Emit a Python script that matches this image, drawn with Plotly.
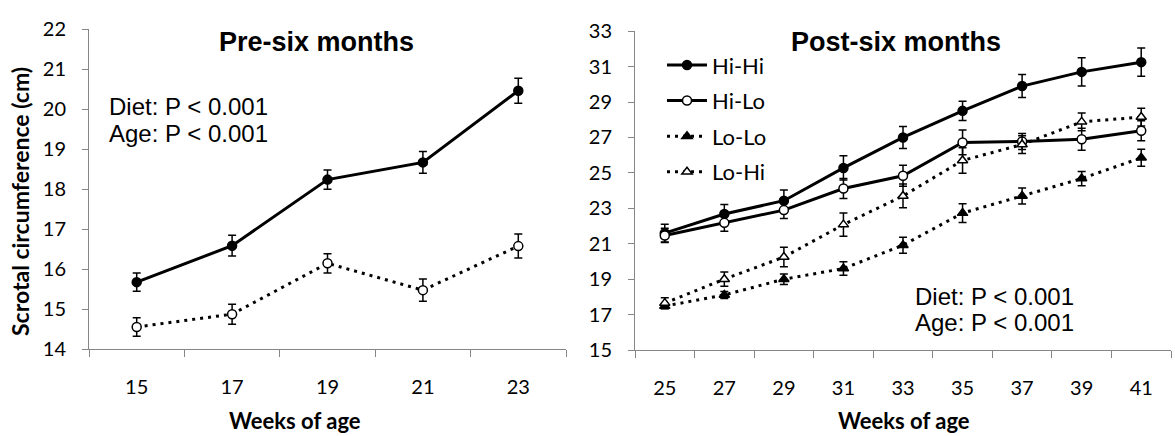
import plotly.graph_objects as go

W, H = 1175, 436

# ---------------- data ----------------
pre_weeks = ["15", "17", "19", "21", "23"]
pre_hi = [15.68, 16.59, 18.24, 18.67, 20.46]
pre_hi_se = [0.23, 0.26, 0.24, 0.27, 0.31]
pre_lo = [14.56, 14.88, 16.15, 15.48, 16.58]
pre_lo_se = [0.23, 0.25, 0.24, 0.28, 0.30]

post_weeks = ["25", "27", "29", "31", "33", "35", "37", "39", "41"]
hihi = [21.60, 22.68, 23.43, 25.28, 27.00, 28.50, 29.90, 30.70, 31.25]
hihi_se = [0.50, 0.53, 0.60, 0.68, 0.62, 0.55, 0.65, 0.80, 0.80]
hilo = [21.47, 22.18, 22.90, 24.12, 24.84, 26.72, 26.77, 26.90, 27.38]
hilo_se = [0.40, 0.47, 0.48, 0.57, 0.59, 0.70, 0.45, 0.62, 0.56]
lolo = [17.48, 18.11, 19.00, 19.60, 20.92, 22.73, 23.70, 24.68, 25.85]
lolo_se = [0.15, 0.20, 0.30, 0.38, 0.45, 0.53, 0.45, 0.40, 0.48]
lohi = [17.65, 19.00, 20.25, 22.08, 23.70, 25.70, 26.60, 27.88, 28.15]
lohi_se = [0.30, 0.40, 0.55, 0.65, 0.67, 0.72, 0.50, 0.50, 0.50]

series_names = ["Hi-Hi", "Hi-Lo", "Lo-Lo", "Lo-Hi"]

AX = "#868686"
TICKFONT = dict(family="Lato", size=20, color="black")
ARIAL = "Liberation Sans, Arial"
DOT = "3px,5px"


def err(v):
    return dict(type="data", array=v, visible=True, color="black", thickness=1.5, width=4)


def mk(symbol, filled, size=9):
    return dict(symbol=symbol, size=size, color="black" if filled else "white",
                line=dict(color="black", width=1.5))


fig = go.Figure()

# ---- left panel ----
fig.add_trace(go.Scatter(x=pre_weeks, y=pre_lo, error_y=err(pre_lo_se), mode="lines+markers",
                         line=dict(color="black", width=3, dash=DOT), marker=mk("circle", False),
                         showlegend=False, xaxis="x", yaxis="y"))
fig.add_trace(go.Scatter(x=pre_weeks, y=pre_hi, error_y=err(pre_hi_se), mode="lines+markers",
                         line=dict(color="black", width=3), marker=mk("circle", True),
                         showlegend=False, xaxis="x", yaxis="y"))

# ---- right panel ----
post = [
    (hihi, hihi_se, "solid", mk("circle", True)),
    (hilo, hilo_se, "solid", mk("circle", False)),
    (lolo, lolo_se, DOT, mk("triangle-up", True)),
    (lohi, lohi_se, DOT, mk("triangle-up", False)),
]
for name, (vals, se, dash, marker) in zip(series_names, post):
    fig.add_trace(go.Scatter(x=post_weeks, y=vals, error_y=err(se), mode="lines+markers", name=name,
                             legendgroup=name,
                             line=dict(color="black", width=3, dash=dash), marker=marker,
                             xaxis="x2", yaxis="y2"))

common_x = dict(type="category", tickson="boundaries", showline=True, linecolor=AX, linewidth=1,
                ticks="outside", ticklen=7, tickcolor=AX, tickwidth=1, showgrid=False, zeroline=False,
                tickfont=TICKFONT, ticklabelstandoff=20)
common_y = dict(showline=True, linecolor=AX, linewidth=1, ticks="outside", ticklen=6, tickcolor=AX,
                tickwidth=1, showgrid=False, zeroline=False, tickfont=TICKFONT, ticklabelstandoff=12)

fig.update_layout(
    width=W, height=H, margin=dict(l=0, r=0, t=0, b=0),
    paper_bgcolor="white", plot_bgcolor="white",
    xaxis=dict(domain=[89 / W, 566 / W], range=[-0.5, 4.5], anchor="y", **common_x),
    yaxis=dict(domain=[(H - 356) / H, (H - 17) / H], range=[14, 22], dtick=1, anchor="x", **common_y),
    xaxis2=dict(domain=[635 / W, 1171 / W], range=[-0.5, 8.5], anchor="y2", **common_x),
    yaxis2=dict(domain=[(H - 356.7) / H, (H - 19.2) / H], range=[15, 33], tick0=15, dtick=2,
                anchor="x2", **common_y),
    legend=dict(x=662 / W, y=(H - 33) / H, xanchor="left", yanchor="top", bgcolor="rgba(0,0,0,0)",
                font=dict(family="Lato", size=22, color="black"), tracegroupgap=4,
                traceorder="grouped", itemwidth=40),
    showlegend=True,
)

ann = []
ann.append(dict(text="Pre-six months", x=316 / W, y=(H - 31) / H, xref="paper", yref="paper",
                showarrow=False, xanchor="center", yanchor="middle",
                font=dict(family=ARIAL, size=27, color="black", weight="bold")))
ann.append(dict(text="Post-six months", x=896 / W, y=(H - 31) / H, xref="paper", yref="paper",
                showarrow=False, xanchor="center", yanchor="middle",
                font=dict(family=ARIAL, size=27, color="black", weight="bold")))
for (x0, y0) in [(107, 99), (913, 300)]:
    ann.append(dict(text="Diet: P &lt; 0.001", x=x0 / W, y=(H - y0) / H, xref="paper", yref="paper",
                    showarrow=False, xanchor="left", yanchor="middle",
                    font=dict(family=ARIAL, size=24, color="black")))
    ann.append(dict(text="Age: P &lt; 0.001", x=x0 / W, y=(H - y0 - 28) / H, xref="paper", yref="paper",
                    showarrow=False, xanchor="left", yanchor="middle",
                    font=dict(family=ARIAL, size=24, color="black")))
ann.append(dict(text="Scrotal circumference (cm)", x=20 / W, y=(H - 200) / H, xref="paper", yref="paper",
                showarrow=False, xanchor="center", yanchor="middle", textangle=-90,
                font=dict(family="Lato", size=23, color="black", weight="bold")))
for xc in [295, 904]:
    ann.append(dict(text="Weeks of age", x=xc / W, y=(H - 431) / H, xref="paper", yref="paper",
                    showarrow=False, xanchor="center", yanchor="middle",
                    font=dict(family="Lato", size=22, color="black", weight="bold")))
fig.update_layout(annotations=ann)

fig.write_html("out.html")
